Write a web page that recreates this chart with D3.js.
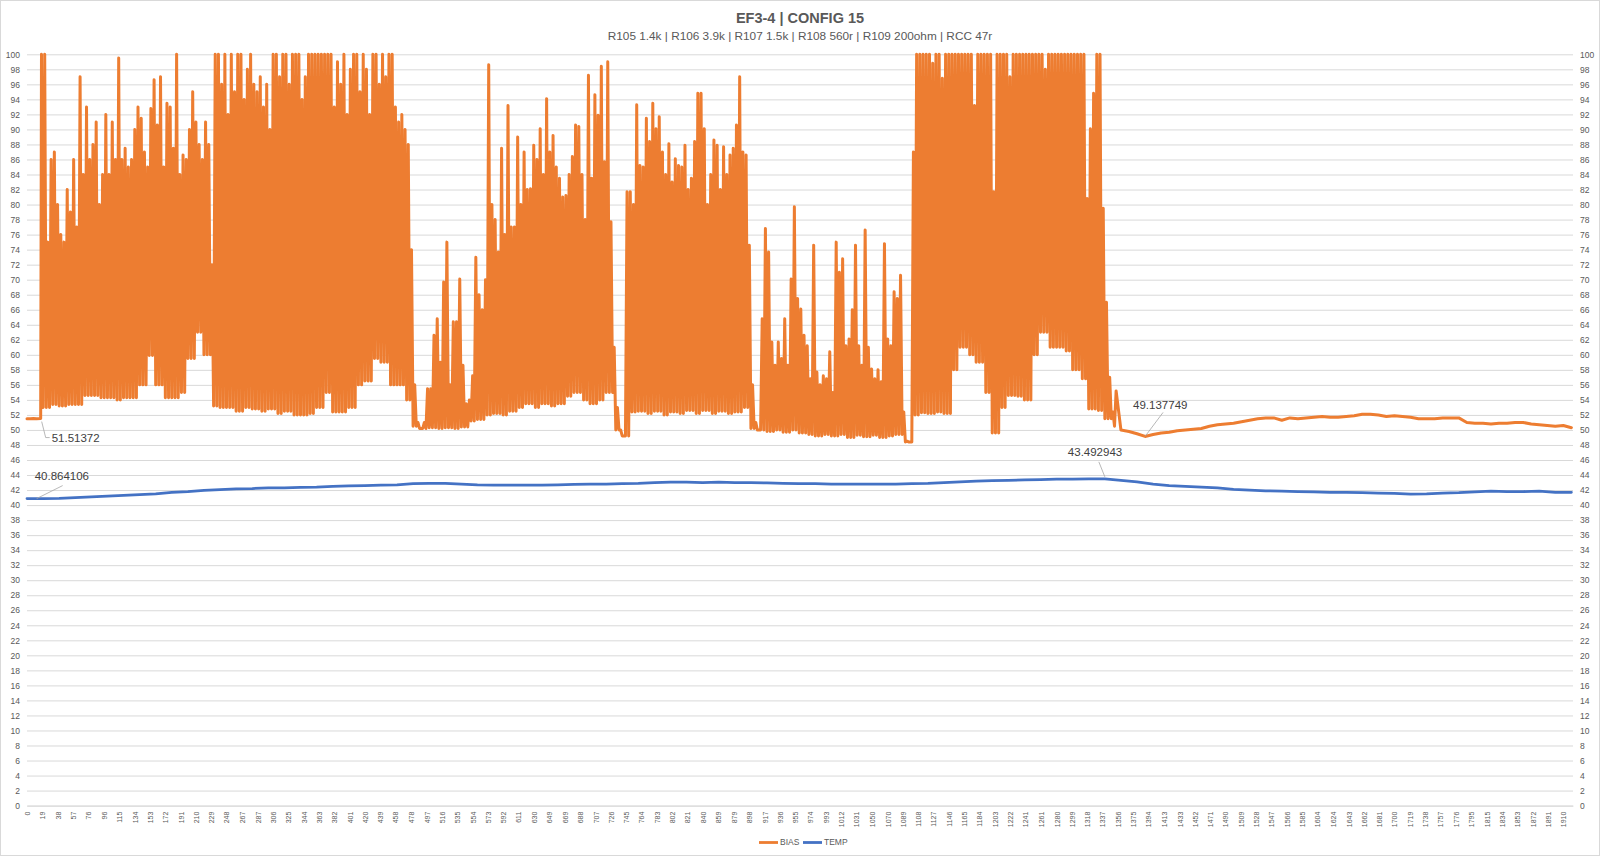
<!DOCTYPE html>
<html><head><meta charset="utf-8">
<script src="https://cdn.jsdelivr.net/npm/d3@7"></script>
<style>body{margin:0;background:#fff}svg{display:block}</style>
</head><body>
<svg id="c" width="1600" height="856"></svg>
<script>
// ---------------- DATA ----------------
const chartTitle = "EF3-4 | CONFIG 15";
const chartSubtitle = "R105 1.4k | R106 3.9k | R107 1.5k | R108 560r | R109 200ohm | RCC 47r";
const seriesNames = ["BIAS", "TEMP"];
const xTickLabels = [0,19,38,57,76,96,115,134,153,172,191,210,229,248,267,287,306,325,344,363,382,401,420,439,458,478,497,516,535,554,573,592,611,630,649,669,688,707,726,745,764,783,802,821,840,859,879,898,917,936,955,974,993,1012,1031,1050,1070,1089,1108,1127,1146,1165,1184,1203,1222,1241,1261,1280,1299,1318,1337,1356,1375,1394,1413,1433,1452,1471,1490,1509,1528,1547,1566,1585,1604,1624,1643,1662,1681,1700,1719,1738,1757,1776,1795,1815,1834,1853,1872,1891,1910];
const yTickLabels = [0,2,4,6,8,10,12,14,16,18,20,22,24,26,28,30,32,34,36,38,40,42,44,46,48,50,52,54,56,58,60,62,64,66,68,70,72,74,76,78,80,82,84,86,88,90,92,94,96,98,100];

// BIAS: flat start
const biasHeadX = [0, 4, 8, 12, 17];
const biasHead = [51.5, 51.5, 51.52, 51.5, 51.51372];
// BIAS: noisy section, local peaks every 4 samples from sample 18
const biasPeakStart = 18, biasPeakStep = 4;
const biasPeaks = [
100,100,75,86,87,80,76,75,82,79,86,77,97,84,93,86,88,91,80,84,
92,84,91,86,99.5,86,87.5,85,86,90,93,91.5,87,85,92.8,96.6,90.6,97,85,93.5,
93,87.5,100,84,86.6,86,90,95,91,88,86,91,88,72,100,100,96,100,92,100,
95,100,100,94,98,100,96,95,97,93,96,90,100,100,97,100,100,96,100,100,
100,94,97,100,100,100,100,100,100,100,100,93,99,96,100,92,98,100,100,95,
100,98,92,100,100,96,100,97,100,100,93,91,92,90,88,74,56,51,50.2,51,
55.5,55.5,62.6,64.8,59,69.7,75,56,64.4,64.4,70.1,58.6,53.5,54,57.2,73,68,66,70,98.6,
80,78,73.7,87.5,76,93.2,77,77,89,80,87,82,82.1,87.9,86,90.1,84,94.1,87,89.2,
85,83.5,81,81.2,84,86.4,90.6,90.4,84,78,97.2,83.5,94.6,91.9,98.4,85.7,99,77.7,61,53,
50,49.2,81.7,81.7,80,93.3,85.2,85,91.5,88.4,93.5,90.1,91.7,87,84,88.1,83,86.1,85.2,85,
87.9,82,83.5,88.4,94.8,94.8,90.1,80,84,88.6,87.9,82,87.7,84,86.6,87.5,90.6,97,87,86.6,
74.6,56,51,50,64.8,76.8,73.7,61.7,58.6,61.7,59.5,64.8,58.6,70.1,79.7,67.5,66.1,62.6,61.2,56.8,
74.6,57.7,56,57.2,56.8,60.4,55,75,71,72.8,61.2,62.1,66,74.6,61.2,58.6,76.6,61,58.1,56.8,
58,56.4,74.8,62.1,61.2,68.4,67.5,70.6,52.4,48.5,48.4,87,100,100,100,100,100,98.8,100,100,
96.8,100,100,100,100,100,100,100,100,100,93.2,100,100,100,100,100,81.7,100,100,100,
100,97,100,100,100,100,100,100,100,100,100,100,98,100,100,100,100,100,100,100,
100,100,100,100,100,80.8,90.1,94.8,100,100,79.5,67,57,52.4,55.2
];
// BIAS: lower envelope of the noisy section, one value per 10 samples
const biasFloorStep = 10;
const biasFloors = [
51.5,51.5,53,53.4,53.2,53.4,53.4,54.6,54.6,54.3,
54.3,54,54.3,54.3,56,59.9,56,54.3,54.3,55,
59.5,63,60,53.2,53,53,52.5,53,52.8,52.5,
52.8,52.2,52.5,52,52,52.2,53,55,52.4,52.4,
53,56,56.5,59.5,59,56,56,54,50.5,50.2,
50.3,50.2,50.3,50.2,50.4,51.2,51.4,52,52.2,52,
52.5,53,53.5,53,53.5,53.2,53.5,54.5,55,54,
53.5,54,55,50,49.2,52.4,52.5,52.2,52.5,52,
52.4,52.2,52.6,52.2,52.6,52.2,52.5,52.2,52.4,53,
50.2,50,49.8,50,49.7,50,49.6,49.4,49.2,49.4,
49.2,49.4,49,49.3,49.1,49.3,49,49.2,49.4,48.4,
52,52.3,52.2,52.4,52.2,58,61,60,59,55,
49.6,53,54.6,54.5,54,60,63,61,61,60.5,
58,56.8,52.8,52.6,51.5,50.5
];
// BIAS: smooth tail, every 10 samples from 1360
const biasTailStart = 1360, biasTailStep = 10;
const biasTail = [
50.0,49.8,49.5,49.137749,49.4,49.6,49.7,49.9,50.0,50.1,
50.2,50.5,50.7,50.8,50.9,51.1,51.3,51.5,51.6,51.6,
51.3,51.6,51.5,51.6,51.7,51.8,51.7,51.7,51.8,51.9,
52.1,52.1,52.0,51.8,51.9,51.8,51.7,51.5,51.5,51.5,
51.6,51.6,51.6,51.0,50.9,50.9,50.8,50.9,50.9,51.0,
51.0,50.8,50.7,50.6,50.5,50.6,50.3
];
// TEMP: every 20 samples from 0
const tempStep = 20;
const tempValues = [
40.864106,40.86,40.9,41.0,41.1,41.2,41.3,41.4,41.5,41.7,
41.8,41.95,42.05,42.15,42.2,42.3,42.3,42.35,42.4,42.5,
42.55,42.6,42.65,42.7,42.85,42.9,42.9,42.8,42.7,42.65,
42.65,42.65,42.65,42.7,42.75,42.8,42.8,42.85,42.9,43.0,
43.05,43.05,43.0,43.05,43.0,43.0,42.95,42.9,42.85,42.85,
42.8,42.8,42.8,42.8,42.8,42.85,42.9,43.0,43.1,43.2,
43.25,43.3,43.35,43.4,43.45,43.45,43.48,43.492943,43.3,43.1,
42.8,42.6,42.5,42.4,42.3,42.1,42.0,41.9,41.85,41.8,
41.75,41.7,41.7,41.65,41.6,41.55,41.45,41.5,41.6,41.65,
41.75,41.85,41.8,41.8,41.85,41.7,41.7
];
// annotated points: series index, sample, value
const annotations = [
  {s: 0, x: 17, v: 51.51372},
  {s: 1, x: 12, v: 40.864106},
  {s: 0, x: 1390, v: 49.137749},
  {s: 1, x: 1340, v: 43.492943}
];

// ---------------- BUILD POINTS ----------------
const biasPts = [];
biasHeadX.forEach((v, i) => biasPts.push([v, biasHead[i]]));
biasPeaks.forEach((p, i) => {
  const v = biasPeakStart + i * biasPeakStep;
  biasPts.push([v, p]);
  if (i < biasPeaks.length - 1) {
    const vv = v + biasPeakStep / 2;
    const k = Math.min(Math.floor(vv / biasFloorStep), biasFloors.length - 1);
    biasPts.push([vv, Math.min(biasFloors[k], p, biasPeaks[i + 1])]);
  }
});
biasTail.forEach((t, i) => biasPts.push([biasTailStart + i * biasTailStep, t]));
const tempPts = tempValues.map((t, i) => [i * tempStep, t]);

// ---------------- DRAW ----------------
const svg = d3.select("#c");
const W = 1600, H = 856;
const L = 27, R = 1573, T = 54.3, B = 805.6;
const colors = ["#ED7D31", "#4472C4"];
const tickColor = "#595959";
const FONT = "'Liberation Sans', Arial, sans-serif";

svg.append("rect").attr("x", 0.5).attr("y", 0.5).attr("width", W - 1).attr("height", H - 1)
  .attr("fill", "#fff").attr("stroke", "#d9d9d9");

const x = d3.scaleLinear().domain([0, 1922]).range([L, R]);
const y = d3.scaleLinear().domain([0, 100]).range([B, T]);

// grid
const grid = svg.append("g").attr("transform", `translate(${L},0)`)
  .call(d3.axisLeft(y).tickValues(yTickLabels).tickSize(-(R - L)).tickFormat(""));
grid.select(".domain").remove();
grid.selectAll("line").attr("stroke", "#d9d9d9").attr("stroke-width", 1);

// y axis labels (both sides)
const ya = svg.append("g").attr("transform", `translate(${L},0)`)
  .call(d3.axisLeft(y).tickValues(yTickLabels).tickSize(0).tickPadding(7));
ya.select(".domain").remove();
ya.selectAll("text").attr("fill", tickColor).style("font", `8.5px ${FONT}`);

const yb = svg.append("g").attr("transform", `translate(${R},0)`)
  .call(d3.axisRight(y).tickValues(yTickLabels).tickSize(0).tickPadding(7));
yb.select(".domain").remove();
yb.selectAll("text").attr("fill", tickColor).style("font", `8.5px ${FONT}`);

// x axis
const xa = svg.append("g").attr("transform", `translate(0,${B})`)
  .call(d3.axisBottom(x).tickValues(xTickLabels).tickSize(0).tickFormat(d => d));
xa.select(".domain").attr("stroke", "#d9d9d9");
xa.selectAll("text")
  .attr("y", 0).attr("x", -6).attr("dy", "0.35em")
  .attr("transform", "rotate(-90)")
  .style("text-anchor", "end")
  .attr("fill", tickColor).style("font", `7px ${FONT}`);

// lines
const line = d3.line().x(d => x(d[0])).y(d => y(d[1]));
svg.append("path").datum(biasPts).attr("d", line)
  .attr("fill", "none").attr("stroke", colors[0]).attr("stroke-width", 3)
  .attr("stroke-linejoin", "round").attr("stroke-linecap", "round");
svg.append("path").datum(tempPts).attr("d", line)
  .attr("fill", "none").attr("stroke", colors[1]).attr("stroke-width", 2.8)
  .attr("stroke-linejoin", "round").attr("stroke-linecap", "round");

// data labels with leader lines
const labelOffsets = [
  {pts: [[1, 3], [5, 19], [9, 19]], tx: 11, ty: 19},
  {pts: [[0, 0], [26, -13]], tx: -2, ty: -23},
  {pts: [[0, 0], [18, -24]], tx: -12, ty: -31},
  {pts: [[0, -2], [-6, -17]], tx: -37, ty: -27}
];
annotations.forEach((a, i) => {
  const px = x(a.x), py = y(a.v), o = labelOffsets[i];
  svg.append("polyline")
    .attr("points", o.pts.map(p => [px + p[0], py + p[1]].join(",")).join(" "))
    .attr("fill", "none").attr("stroke", "#a6a6a6").attr("stroke-width", 0.8);
  svg.append("text").attr("x", px + o.tx).attr("y", py + o.ty).attr("dy", "0.35em")
    .attr("fill", "#404040").style("font", `11.5px ${FONT}`).text(String(a.v));
});

// title
svg.append("text").attr("x", W / 2).attr("y", 23).attr("text-anchor", "middle")
  .attr("fill", "#595959").style("font", `bold 14.5px ${FONT}`).text(chartTitle);
svg.append("text").attr("x", W / 2).attr("y", 39.5).attr("text-anchor", "middle")
  .attr("fill", "#595959").style("font", `11.8px ${FONT}`).text(chartSubtitle);

// legend
const legX = [759, 803];
seriesNames.forEach((n, i) => {
  svg.append("line").attr("x1", legX[i]).attr("x2", legX[i] + 19)
    .attr("y1", 842.5).attr("y2", 842.5).attr("stroke", colors[i]).attr("stroke-width", 2.8);
  svg.append("text").attr("x", legX[i] + 21).attr("y", 842.5).attr("dy", "0.35em")
    .attr("fill", tickColor).style("font", `8.5px ${FONT}`).text(n);
});
</script>
</body></html>
